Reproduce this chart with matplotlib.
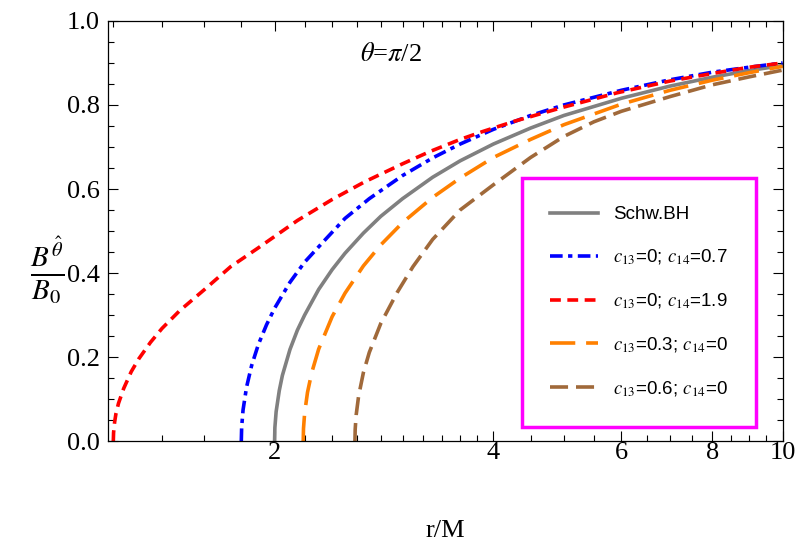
import matplotlib
matplotlib.use("Agg")
import matplotlib.pyplot as plt
from matplotlib.ticker import FixedLocator, NullFormatter, FixedFormatter

# data
r_schw = [2.0, 2.002, 2.01, 2.03, 2.05, 2.1, 2.15, 2.2, 2.3, 2.4, 2.5, 2.65, 2.8, 3.0, 3.3, 3.6, 4.0, 4.5, 5.0, 6.0, 7.0, 8.0, 9.0, 10.0]
b_schw = [0.0, 0.032, 0.07, 0.12, 0.156, 0.218, 0.264, 0.30, 0.361, 0.408, 0.447, 0.495, 0.535, 0.577, 0.628, 0.667, 0.707, 0.745, 0.775, 0.816, 0.845, 0.866, 0.882, 0.894]

r_blue = [1.8, 1.802, 1.81, 1.83, 1.86, 1.9, 1.95, 2.0, 2.1, 2.2, 2.35, 2.5, 2.7, 3.0, 3.3, 3.6, 4.0, 4.5, 5.0, 6.0, 7.0, 8.0, 9.0, 10.0]
b_blue = [0.0, 0.033, 0.074, 0.128, 0.18, 0.23, 0.277, 0.316, 0.378, 0.426, 0.48, 0.53, 0.577, 0.632, 0.674, 0.707, 0.742, 0.775, 0.80, 0.835, 0.86, 0.878, 0.89, 0.90]

r_red = [1.2, 1.201, 1.205, 1.21, 1.22, 1.24, 1.27, 1.3, 1.35, 1.4, 1.48, 1.6, 1.74, 1.9, 2.15, 2.4, 2.66, 3.0, 3.28, 3.6, 3.87, 4.29, 5.0, 5.92, 7.0, 8.13, 9.0, 10.0]
b_red = [0.0, 0.02, 0.045, 0.065, 0.09, 0.125, 0.165, 0.195, 0.235, 0.268, 0.31, 0.36, 0.415, 0.46, 0.525, 0.575, 0.617, 0.66, 0.69, 0.718, 0.737, 0.762, 0.795, 0.829, 0.857, 0.877, 0.89, 0.90]

r_or = [2.19, 2.192, 2.2, 2.22, 2.25, 2.3, 2.4, 2.5, 2.65, 2.8, 3.0, 3.3, 3.6, 4.0, 4.5, 5.0, 6.0, 7.0, 8.0, 9.0, 10.0]
b_or = [0.0, 0.03, 0.067, 0.116, 0.163, 0.219, 0.296, 0.352, 0.417, 0.467, 0.52, 0.58, 0.626, 0.675, 0.718, 0.753, 0.802, 0.835, 0.859, 0.877, 0.892]

r_br = [2.58, 2.582, 2.59, 2.61, 2.65, 2.7, 2.8, 2.95, 3.1, 3.3, 3.6, 4.0, 4.5, 5.0, 5.5, 6.0, 7.0, 8.0, 9.0, 10.0]
b_br = [0.0, 0.028, 0.062, 0.107, 0.163, 0.211, 0.28, 0.354, 0.415, 0.48, 0.55, 0.61, 0.675, 0.725, 0.76, 0.785, 0.82, 0.848, 0.867, 0.883]

labels = ["Schw.BH", r"$c_{13}$=0; $c_{14}$=0.7", r"$c_{13}$=0; $c_{14}$=1.9",
          r"$c_{13}$=0.3; $c_{14}$=0", r"$c_{13}$=0.6; $c_{14}$=0"]
x_ticks = [2, 4, 6, 8, 10]
y_ticks = [0.0, 0.2, 0.4, 0.6, 0.8, 1.0]

plt.rcParams["mathtext.fontset"] = "stix"
fig = plt.figure(figsize=(8.06, 5.52), dpi=100)
ax = fig.add_axes([0.134, 0.201, 0.837, 0.761])
lw = 2.6
ax.plot(r_schw, b_schw, color="#808080", lw=lw, label=labels[0])
ax.plot(r_blue, b_blue, color="#0000ff", lw=lw, dashes=(3.5, 1.5, 1.2, 1.5), label=labels[1])
ax.plot(r_red, b_red, color="#ff0000", lw=lw, dashes=(3, 1.8), label=labels[2])
ax.plot(r_or, b_or, color="#ff8000", lw=lw, dashes=(7, 3), label=labels[3])
ax.plot(r_br, b_br, color="#a0693a", lw=lw, dashes=(5, 2.2), label=labels[4])

ax.set_xscale("log")
ax.set_xlim(1.18, 10)
ax.set_ylim(0, 1.0)
ax.xaxis.set_major_locator(FixedLocator(x_ticks))
ax.xaxis.set_major_formatter(FixedFormatter([str(t) for t in x_ticks]))
minors = [1.2, 1.4, 1.6, 1.8, 2.2, 2.4, 2.6, 2.8, 3, 3.2, 3.4, 3.6, 3.8, 4.5, 5, 5.5, 6.5, 7, 7.5, 8.5, 9, 9.5]
ax.xaxis.set_minor_locator(FixedLocator(minors))
ax.xaxis.set_minor_formatter(NullFormatter())
ax.yaxis.set_major_locator(FixedLocator(y_ticks))
ax.set_yticklabels([f"{t:.1f}" for t in y_ticks])
ax.yaxis.set_minor_locator(FixedLocator([i * 0.05 for i in range(21)]))
ax.tick_params(which="both", direction="in", top=True, right=True, labelsize=19, width=0.8)
ax.tick_params(which="major", length=7)
ax.tick_params(which="minor", length=4)
ax.tick_params(axis="x", which="major", pad=1)
ax.tick_params(axis="y", which="major", pad=6)
for lab in ax.get_xticklabels() + ax.get_yticklabels():
    lab.set_fontfamily("Liberation Serif")
for s in ax.spines.values():
    s.set_linewidth(0.9)

ax.set_xlabel("r/M", fontsize=19, family="Liberation Serif", labelpad=40)
fig.text(0.058, 0.51, r"$\frac{B^{\hat{\theta}}}{B_0}$", fontsize=30, ha="center", va="center")
ax.text(0.42, 0.92, r"$\theta$=$\pi$/2", transform=ax.transAxes, fontsize=19,
        family="Liberation Serif", ha="center", va="center")

leg = ax.legend(loc="lower right", bbox_to_anchor=(0.975, 0.012),
                prop={"family": "Liberation Sans", "size": 13.5}, handlelength=2.6,
                labelspacing=1.3, borderpad=1.5, fancybox=False, framealpha=1)
leg.get_frame().set_edgecolor("#ff00ff")
leg.get_frame().set_linewidth(2.5)

fig.savefig("out.png", dpi=100)
